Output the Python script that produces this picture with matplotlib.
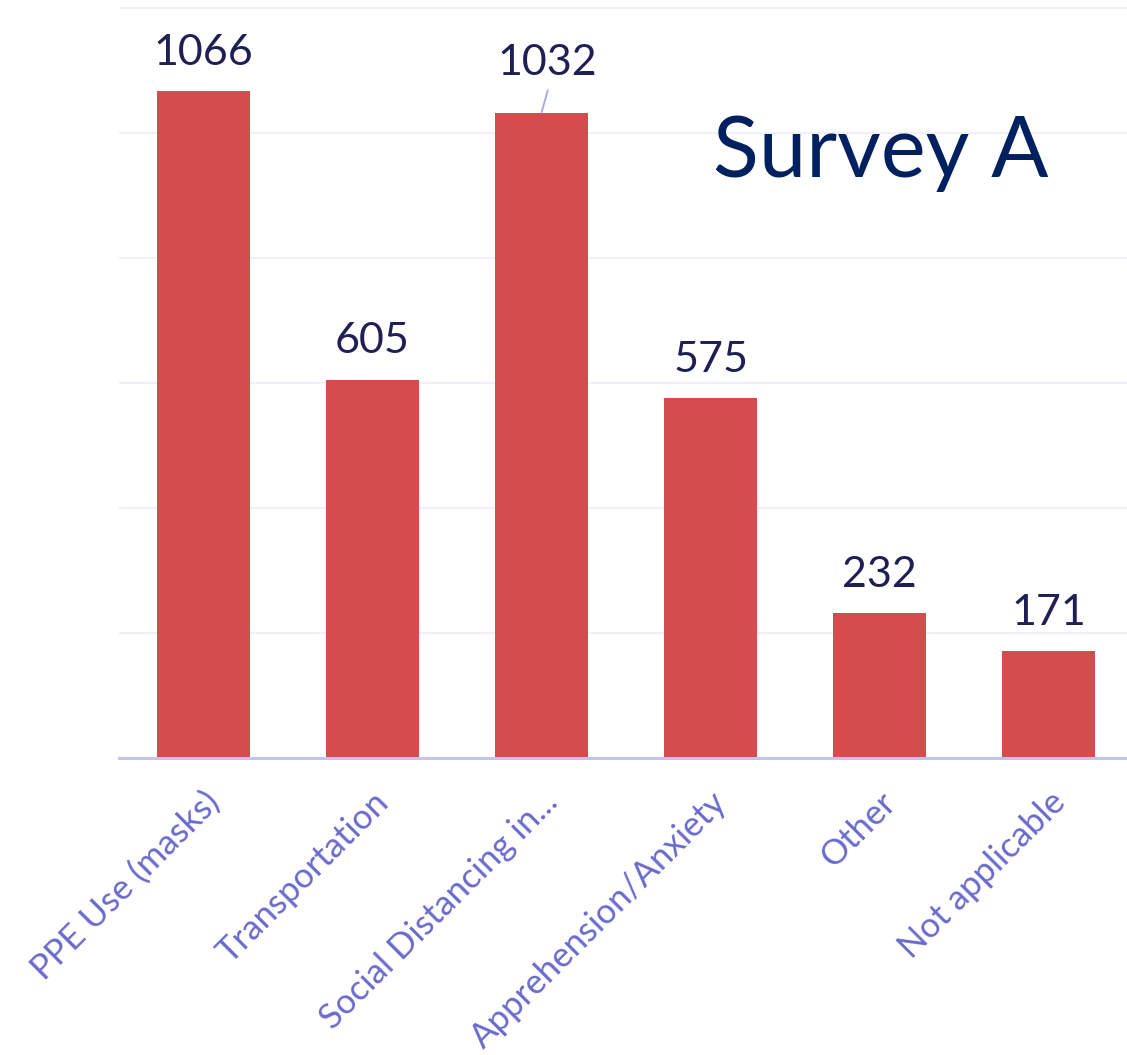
import numpy as np
import matplotlib
matplotlib.use('Agg')
import matplotlib.pyplot as plt

# survey answers and counts
categories = ['PPE Use (masks)', 'Transportation', 'Social Distancing in...',
              'Apprehension/Anxiety', 'Other', 'Not applicable']
counts = [1066, 605, 1032, 575, 232, 171]
grid_values = [0, 200, 400, 600, 800, 1000, 1200]

plt.rcParams['font.family'] = ['Lato', 'DejaVu Sans']

fig = plt.figure(figsize=(11.27, 10.55), dpi=100)
ax = fig.add_axes([119 / 1127, 1 - 758 / 1055, 1 - 119 / 1127, 758 / 1055])

x = np.arange(len(categories))
ax.bar(x, counts, width=0.55, color='#d44d4e', zorder=3)

ax.set_xlim(-0.5, 5.464)
ax.set_ylim(0, 1212)
ax.set_yticks(grid_values)
ax.yaxis.grid(True, color='#f0f0f6', linewidth=1.5, zorder=0)
ax.tick_params(axis='y', length=0, labelleft=False)
for s in ['top', 'right', 'left']:
    ax.spines[s].set_visible(False)
ax.spines['bottom'].set_color('#c3c3ec')
ax.spines['bottom'].set_linewidth(2.2)
ax.spines['bottom'].set_zorder(4)

ax.set_xticks(x)
ax.set_xticklabels(categories, rotation=45, ha='right', va='top',
                   rotation_mode='anchor', fontsize=25, color='#6a6acd')
ax.tick_params(axis='x', length=0, pad=20)

for i, v in enumerate(counts):
    if v == 1032:
        # this one is lifted and has a leader line
        ax.annotate(str(v), xy=(i, v), xytext=(4, 27), textcoords='offset points',
                    ha='center', va='baseline', fontsize=31, color='#1f1f55',
                    zorder=5)
        ax.annotate('', xy=(i, v), xytext=(4.5, 16), textcoords='offset points',
                    arrowprops=dict(arrowstyle='-', color='#aaaae6', lw=1.4,
                                    shrinkA=0, shrinkB=0))
    else:
        ax.annotate(str(v), xy=(i, v), xytext=(0, 19), textcoords='offset points',
                    ha='center', va='baseline', fontsize=31, color='#1f1f55',
                    zorder=5)

fig.text(713 / 1127, 1 - 177 / 1055, 'Survey A', ha='left', va='baseline',
         fontsize=61, color='#002060')

fig.savefig('out.png', dpi=100)
